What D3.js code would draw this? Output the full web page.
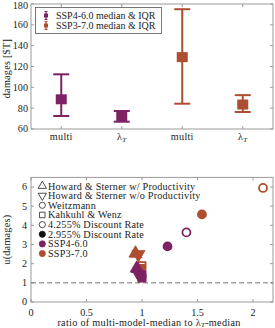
<!DOCTYPE html>
<html><head><meta charset="utf-8">
<script src="https://cdn.jsdelivr.net/npm/d3@7"></script>
<style>body{margin:0;background:#fff}svg{display:block}text{font-family:"Liberation Serif","DejaVu Serif",serif;fill:#222}</style>
</head><body><svg id="c" width="275" height="328"></svg>
<script>
// ---- data: top panel ----
const topCats = ["multi","lambdaT","multi","lambdaT"];
const topScenario = ["SSP4-6.0","SSP4-6.0","SSP3-7.0","SSP3-7.0"];
const topMedian = [88.5, 71.5, 129, 83.5];
const topQ1 = [72.5, 67, 84.3, 76.3];
const topQ3 = [112.5, 77.3, 175, 92.5];
const topYTicks = [60,80,100,120,140,160,180];
// ---- data: bottom panel ----
const ptModel = ["HSp","HSp","HSn","HSn","KW","KW","W","W","HSp","HSp","HSn","HSn","KW","KW","W","W"];
const ptRate = ["4.255","2.955","4.255","2.955","4.255","2.955","4.255","2.955","4.255","2.955","4.255","2.955","4.255","2.955","4.255","2.955"];
const ptScen = ["SSP3-7.0","SSP3-7.0","SSP3-7.0","SSP3-7.0","SSP3-7.0","SSP3-7.0","SSP3-7.0","SSP3-7.0","SSP4-6.0","SSP4-6.0","SSP4-6.0","SSP4-6.0","SSP4-6.0","SSP4-6.0","SSP4-6.0","SSP4-6.0"];
const ptX = [0.94,0.945,0.97,0.965,1.0,0.99,2.09,1.54, 0.95,0.96,0.97,0.975,1.0,1.0,1.40,1.23];
const ptY = [2.55,2.52,2.5,2.47,1.9,1.75,5.95,4.57, 1.76,1.72,1.42,1.40,1.42,1.25,3.63,2.9];
const botXTicks = [0,0.5,1,1.5,2];
const botYTicks = [0,1,2,3,4,5,6];
const legendLabels = ["Howard & Sterner w/ Productivity","Howard & Sterner w/o Productivity","Weitzmann","Kahkuhl & Wenz","4.255% Discount Rate","2.955% Discount Rate","SSP4-6.0","SSP3-7.0"];

const colors = {"SSP4-6.0":"#7d2262","SSP3-7.0":"#ad4e30"};
const boxCol = "#9a9a9a";
const svg = d3.select("#c");
const FS = 10.2, LS = 0.25;

// ======== TOP PANEL ========
const L=31, R=273;
const yT = d3.scaleLinear().domain([60,180]).range([129,4]);
const xT = d3.scalePoint().domain(d3.range(topCats.length)).range([L,R]).padding(0.5);
const gT = svg.append("g");
gT.append("rect").attr("x",L).attr("y",4).attr("width",R-L).attr("height",125).attr("fill","none").attr("stroke",boxCol).attr("stroke-width",1);
topYTicks.forEach(v=>{
  const y=yT(v);
  gT.append("line").attr("x1",L).attr("x2",L+3).attr("y1",y).attr("y2",y).attr("stroke",boxCol);
  gT.append("line").attr("x1",R-3).attr("x2",R).attr("y1",y).attr("y2",y).attr("stroke",boxCol);
  gT.append("text").attr("x",L-3).attr("y",Math.max(y+3.4,9.3)).attr("text-anchor","end").attr("font-size",FS).text(v);
});
topCats.forEach((c,i)=>{
  const x=xT(i);
  gT.append("line").attr("x1",x).attr("x2",x).attr("y1",4).attr("y2",7).attr("stroke",boxCol);
  gT.append("line").attr("x1",x).attr("x2",x).attr("y1",126).attr("y2",129).attr("stroke",boxCol);
  const t=gT.append("text").attr("x",x).attr("y",139.5).attr("text-anchor","middle").attr("font-size",FS).attr("letter-spacing",LS);
  if(c==="multi") t.text("multi");
  else { t.append("tspan").text("λ"); t.append("tspan").attr("font-size",7).attr("font-style","italic").attr("dy",2).text("T"); }
});
gT.append("text").attr("transform","translate(9.5,"+yT(118)+") rotate(-90)").attr("text-anchor","middle").attr("font-size",FS).attr("letter-spacing",LS).text("damages [$T]");
topCats.forEach((c,i)=>{
  const x=xT(i), col=colors[topScenario[i]];
  const g=gT.append("g").attr("stroke",col).attr("stroke-width",2);
  g.append("line").attr("x1",x).attr("x2",x).attr("y1",yT(topQ1[i])).attr("y2",yT(topQ3[i]));
  g.append("line").attr("x1",x-8).attr("x2",x+8).attr("y1",yT(topQ1[i])).attr("y2",yT(topQ1[i]));
  g.append("line").attr("x1",x-8).attr("x2",x+8).attr("y1",yT(topQ3[i])).attr("y2",yT(topQ3[i]));
  gT.append("rect").attr("x",x-5.5).attr("y",yT(topMedian[i])-5).attr("width",11).attr("height",10).attr("fill",col);
});
gT.append("rect").attr("x",35.5).attr("y",7.5).attr("width",126).attr("height",26).attr("fill","#fff").attr("stroke","#555").attr("stroke-width",0.8);
["SSP4-6.0","SSP3-7.0"].forEach((s,i)=>{
  const y=15.5+i*10, x=46, col=colors[s];
  gT.append("line").attr("x1",x).attr("x2",x).attr("y1",y-4).attr("y2",y+4).attr("stroke",col).attr("stroke-width",1.2);
  gT.append("line").attr("x1",x-1.5).attr("x2",x+1.5).attr("y1",y-4).attr("y2",y-4).attr("stroke",col);
  gT.append("line").attr("x1",x-1.5).attr("x2",x+1.5).attr("y1",y+4).attr("y2",y+4).attr("stroke",col);
  gT.append("rect").attr("x",x-2).attr("y",y-2).attr("width",4).attr("height",4).attr("fill",col);
  gT.append("text").attr("x",56).attr("y",y+3.5).attr("font-size",10).attr("letter-spacing",0).text(s+" median & IQR");
});

// ======== BOTTOM PANEL ========
const xB = d3.scaleLinear().domain([0,2.18]).range([L,R]);
const yB = d3.scaleLinear().domain([0,6.5]).range([302,177.4]);
const gB = svg.append("g");
gB.append("rect").attr("x",L).attr("y",yB(6.5)).attr("width",R-L).attr("height",yB(0)-yB(6.5)).attr("fill","none").attr("stroke",boxCol);
botYTicks.forEach(v=>{
  const y=yB(v);
  gB.append("line").attr("x1",L).attr("x2",L+3).attr("y1",y).attr("y2",y).attr("stroke",boxCol);
  gB.append("line").attr("x1",R-3).attr("x2",R).attr("y1",y).attr("y2",y).attr("stroke",boxCol);
  gB.append("text").attr("x",L-4).attr("y",y+3.4).attr("text-anchor","end").attr("font-size",FS).text(v);
});
botXTicks.forEach(v=>{
  const x=xB(v);
  gB.append("line").attr("x1",x).attr("x2",x).attr("y1",yB(6.5)).attr("y2",yB(6.5)+3).attr("stroke",boxCol);
  gB.append("line").attr("x1",x).attr("x2",x).attr("y1",299).attr("y2",302).attr("stroke",boxCol);
  gB.append("text").attr("x",x).attr("y",315.5).attr("text-anchor","middle").attr("font-size",FS).text(v);
});
gB.append("line").attr("x1",L).attr("x2",R).attr("y1",yB(1)).attr("y2",yB(1)).attr("stroke","#777").attr("stroke-width",1).attr("stroke-dasharray","5,3");
gB.append("text").attr("transform","translate(10,"+yB(3.25)+") rotate(-90)").attr("text-anchor","middle").attr("font-size",FS).attr("letter-spacing",LS).text("u(damages)");
const xl=gB.append("text").attr("x",149).attr("y",325.5).attr("text-anchor","middle").attr("font-size",FS).attr("letter-spacing",0.3);
xl.append("tspan").text("ratio of multi-model-median to λ");
xl.append("tspan").attr("font-size",7).attr("font-style","italic").attr("dy",1.5).text("T");
xl.append("tspan").attr("dy",-1.5).text("-median");

const shapes = {HSp:d3.symbolTriangle, HSn:d3.symbolTriangle, W:d3.symbolCircle, KW:d3.symbolSquare};
const rot = {HSp:0, HSn:180, W:0, KW:0};
const sizes = {HSp:48, HSn:48, W:50, KW:50};
function marker(g,model,x,y,col,filled,sz,sw){
  g.append("path").attr("d",d3.symbol().type(shapes[model]).size(sz||sizes[model])())
   .attr("transform","translate("+x+","+y+") rotate("+rot[model]+")")
   .attr("fill",filled?col:"none").attr("stroke",col).attr("stroke-width",sw||1.8);
}
ptX.forEach((v,i)=>{
  marker(gB,ptModel[i],xB(v),yB(ptY[i]),colors[ptScen[i]],ptRate[i]==="2.955");
});
const legY0=186, legDy=9.65, mx=42.3, tx=48;
const legMarks=[["HSp","#222",false],["HSn","#222",false],["W","#222",false],["KW","#222",false],["W","#222",false],["W","#111",true],["W",colors["SSP4-6.0"],true],["W",colors["SSP3-7.0"],true]];
legendLabels.forEach((lab,i)=>{
  const y=legY0+i*legDy;
  marker(gB,legMarks[i][0],mx,y,legMarks[i][1],legMarks[i][2],30,0.8);
  gB.append("text").attr("x",tx).attr("y",y+3.5).attr("font-size",FS).attr("letter-spacing",0.2).text(lab);
});
</script></body></html>
